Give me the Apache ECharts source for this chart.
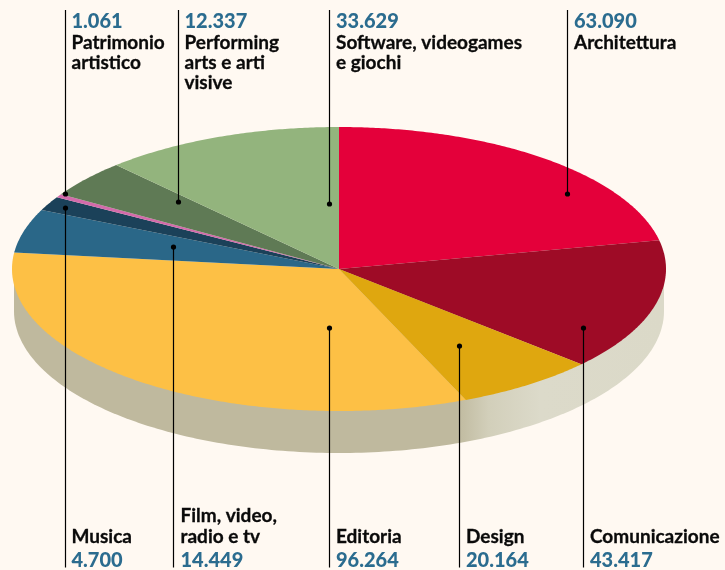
<!DOCTYPE html>
<html>
<head>
<meta charset="utf-8">
<style>html,body{margin:0;padding:0;background:#fff9f2}#c{width:725px;height:570px}</style>
<script src="https://cdn.jsdelivr.net/npm/echarts@6/dist/echarts.min.js"></script>
</head>
<body>
<div id="c"></div>
<script>
// ---- data ----
const categories = ['Architettura','Comunicazione','Design','Editoria','Film, video,\nradio e tv','Musica','Patrimonio\nartistico','Performing\narts e arti\nvisive','Software, videogames\ne giochi'];
const values = [63090,43417,20164,96264,14449,4700,1061,12337,33629];
const valueLabels = ['63.090','43.417','20.164','96.264','14.449','4.700','1.061','12.337','33.629'];

// ---- styling and layout ----
const colors = ['#e4003a','#9e0b26','#dfa70f','#fdc045','#2a6788','#1b4159','#d36baa','#5f7a55','#93b47d'];
const labelSide = ['top','bottom','bottom','bottom','bottom','bottom','top','top','top'];
const leaderX = [567.5,583.5,459.5,329.5,173.5,65.5,65.5,178.5,329.5];
const dotY = [194,328,346,328,247,208,194,202,204];
const textX = [574,590,466,336,180.5,71.5,71.5,184.5,336];
const CX=339, CY=269, RX=327, RY=142, DEPTH=42, WALL_RX=325;
const LH=20.4, TOP_Y=22, BOTTOM_Y=561, TOP_END=10, BOTTOM_END=567.5;
const NUM_FONT='900 20px Lato', NAME_FONT='bold 19px Lato';

// The reference's slices are drawn on a circle slightly larger than the sum of the
// printed figures, with the last slice closing the circle at 12 o'clock.
const ANGLE_BASE = 290111;
const cum = values.reduce((acc,v,i)=>{acc.push((acc[i-1]||0)+v);return acc;},[]);
const angleOf = (i)=> i<0 ? 0 : (i===values.length-1 ? 360 : cum[i]/ANGLE_BASE*360);
const pt = (deg,rx,ry,cy)=>{const a=deg*Math.PI/180;return [CX+rx*Math.sin(a),cy-ry*Math.cos(a)];};

const chart = echarts.init(document.getElementById('c'),null,{renderer:'canvas'});
chart.setOption({
  backgroundColor:'#fff9f2',
  animation:false,
  series:[
    { // side wall of the disc
      type:'custom',coordinateSystem:'none',silent:true,data:[[0]],
      renderItem(){
        const pts=[];
        for(let d=90;d<=270;d+=1) pts.push(pt(d,WALL_RX,RY,CY+DEPTH));
        pts.push([CX-WALL_RX,CY]);pts.push([CX+WALL_RX,CY]);
        return {type:'polygon',shape:{points:pts},style:{fill:new echarts.graphic.LinearGradient(0,0,1,0,[
          {offset:0,color:'#bfb99e'},{offset:0.68,color:'#bfb99e'},{offset:0.73,color:'#d2cfba'},{offset:0.81,color:'#dcdaca'},{offset:1,color:'#dbd9c8'}])}};
      }
    },
    { // top face slices
      type:'custom',coordinateSystem:'none',silent:true,
      data:values.map((v)=>[v]),
      renderItem(params){
        const i=params.dataIndex, start=angleOf(i-1), end=angleOf(i);
        const pts=[[CX,CY]];
        const n=Math.max(2,Math.ceil((end-start)*2));
        for(let k=0;k<=n;k++) pts.push(pt(start+(end-start)*k/n,RX,RY,CY));
        return {type:'polygon',shape:{points:pts},style:{fill:colors[i]}};
      }
    },
    { // leaders and text
      type:'custom',coordinateSystem:'none',silent:true,
      data:values.map((v)=>[v]),
      renderItem(params){
        const i=params.dataIndex, top=labelSide[i]==='top', x=leaderX[i], y=dotY[i];
        const children=[
          {type:'line',shape:{x1:x,y1:top?TOP_END:y,x2:x,y2:top?y:BOTTOM_END},style:{stroke:'#000',lineWidth:1.2}},
          {type:'circle',shape:{cx:x,cy:y,r:2.6},style:{fill:'#000'}}
        ];
        const lines=categories[i].split('\n');
        const num=(yy)=>({type:'text',style:{text:valueLabels[i],x:textX[i],y:yy,fill:'#2b6c8f',font:NUM_FONT,verticalAlign:'middle',align:'left'}});
        const nm=(t,yy)=>({type:'text',style:{text:t,x:textX[i],y:yy,fill:'#0a0a0a',stroke:'#0a0a0a',lineWidth:0.3,font:NAME_FONT,verticalAlign:'middle',align:'left'}});
        if(top){
          children.push(num(TOP_Y));
          lines.forEach((t,k)=>children.push(nm(t,TOP_Y+LH*(k+1))));
        }else{
          children.push(num(BOTTOM_Y));
          lines.forEach((t,k)=>children.push(nm(t,BOTTOM_Y-4-LH*(lines.length-k))));
        }
        return {type:'group',children};
      }
    }
  ]
});
</script>
</body>
</html>
